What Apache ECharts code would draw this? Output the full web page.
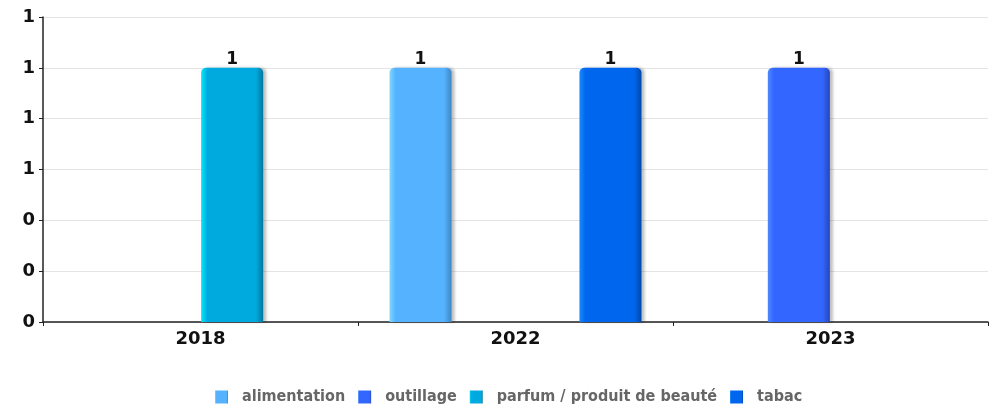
<!DOCTYPE html>
<html><head><meta charset="utf-8">
<script src="https://cdn.jsdelivr.net/npm/echarts@6/dist/echarts.min.js"></script>
<style>html,body{margin:0;padding:0;background:#fff}#c{width:996px;height:408px}</style>
</head><body><div id="c"></div>
<script>
const categories = ['2018', '2022', '2023'];
const seriesNames = ['alimentation', 'outillage', 'parfum / produit de beauté', 'tabac'];
const alimentation = [null, 1, null];
const outillage = [null, null, 1];
const parfum = [1, null, null];
const tabac = [null, 1, null];
const seriesValues = [alimentation, outillage, parfum, tabac];
const colors = [
  {base: '#55b2ff', light: '#7fd8ff', dark: '#3f86c0'},
  {base: '#3366ff', light: '#4d88ff', dark: '#2646b8'},
  {base: '#00aadf', light: '#00eaff', dark: '#00789e'},
  {base: '#0066ee', light: '#1a88ff', dark: '#0048a8'}
];
const chart = echarts.init(document.getElementById('c'), null, {renderer: 'canvas'});
const series = seriesNames.map((n, i) => ({
  name: n,
  type: 'bar',
  data: seriesValues[i],
  barGap: '2%',
  barCategoryGap: '20%',
  itemStyle: {
    color: new echarts.graphic.LinearGradient(0, 0, 1, 0, [
      {offset: 0, color: colors[i].light},
      {offset: 0.1, color: colors[i].base},
      {offset: 0.88, color: colors[i].base},
      {offset: 1, color: colors[i].dark}
    ]),
    borderRadius: [5, 5, 0, 0],
    shadowColor: 'rgba(0,0,0,0.25)',
    shadowBlur: 3,
    shadowOffsetX: 3
  },
  label: {
    show: true, position: 'top', distance: 0,
    color: '#111', fontWeight: 'bold', fontSize: 17, fontFamily: 'DejaVu Sans',
    formatter: p => Math.round(p.value)
  }
}));
chart.setOption({
  animation: false,
  color: colors.map(c => c.base),
  grid: {left: 43, right: 8, top: 17, bottom: 86},
  legend: {
    top: 384, left: 210,
    itemWidth: 13, itemHeight: 13, itemGap: 13,
    icon: 'rect',
    textStyle: {color: '#666', fontWeight: 'bold', fontSize: 16, fontFamily: 'DejaVu Sans Condensed', padding: [0, 0, 0, 9]},
    data: seriesNames
  },
  xAxis: {
    type: 'category', data: categories,
    axisLine: {lineStyle: {color: '#222', width: 1.5}},
    axisTick: {show: true, alignWithLabel: false, length: 4, lineStyle: {color: '#222'}},
    axisLabel: {color: '#111', fontWeight: 'bold', fontSize: 18, fontFamily: 'DejaVu Sans', margin: 8}
  },
  yAxis: {
    type: 'value', min: 0, max: 1.2, interval: 0.2,
    axisLine: {show: true, lineStyle: {color: '#222', width: 1.5}},
    axisTick: {show: true, length: 4, lineStyle: {color: '#222'}},
    splitLine: {lineStyle: {color: '#e4e4e4'}},
    axisLabel: {color: '#111', fontWeight: 'bold', fontSize: 18, fontFamily: 'DejaVu Sans', margin: 8,
      formatter: v => Math.round(v)}
  },
  series: series
});
</script></body></html>
